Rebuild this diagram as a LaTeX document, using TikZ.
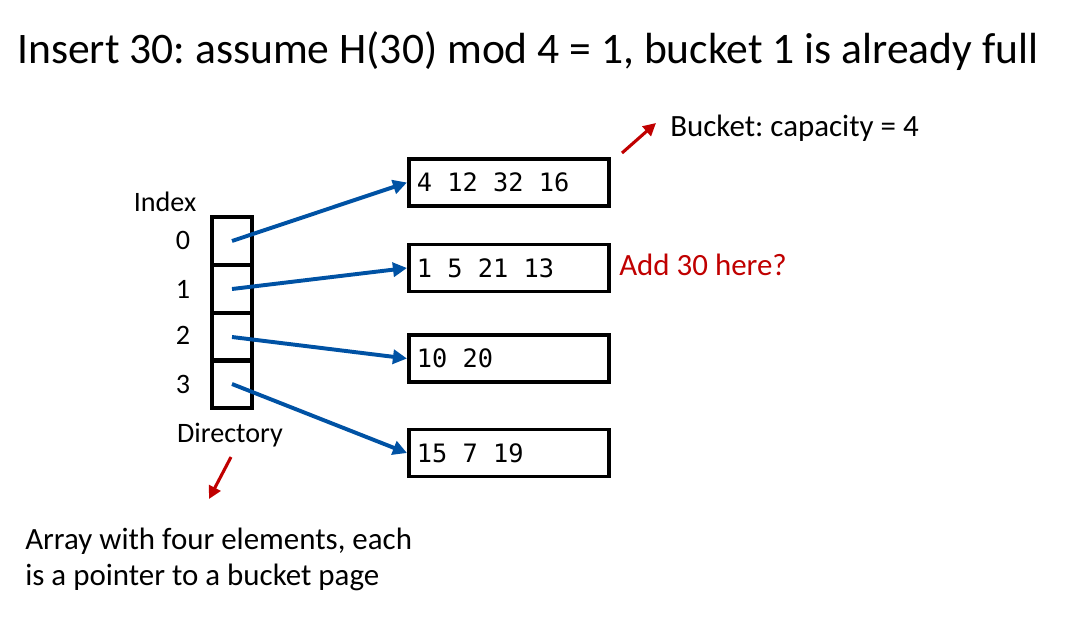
\documentclass[tikz,border=0pt]{standalone}
\usepackage{fontspec}
\setmainfont{Carlito}
\setmonofont{DejaVu Sans Mono}
\usetikzlibrary{arrows.meta}
\definecolor{ptrblue}{RGB}{0,82,164}
\definecolor{notered}{RGB}{192,0,0}
\newcommand\msp{\hbox to 0.602em{}}
\frenchspacing
\tikzset{
  cell/.style={draw, line width=2.8pt, minimum width=1cm, minimum height=1.2cm, inner sep=0pt},
  bucket/.style={draw, line width=2.8pt, anchor=west, minimum width=5cm, minimum height=1.175cm,
    text width=4.6cm, inner xsep=0.2cm, align=left, font=\ttfamily\fontsize{18}{22}\selectfont},
  lbl/.style={font=\fontsize{20}{25.5}\selectfont, inner sep=0pt},
  txt/.style={font=\fontsize{22}{25.5}\selectfont, inner sep=0pt},
  ptr/.style={ptrblue, line width=2.8pt, -{Triangle[length=10pt,width=10pt]}},
  note/.style={notered, line width=2.2pt, -{Triangle[length=9pt,width=9pt]}}
}
\begin{document}
\begin{tikzpicture}[x=0.025cm,y=-0.025cm]
    \useasboundingbox (0,0) rectangle (1072,619);
    \node[anchor=base west, inner sep=0pt, font=\fontsize{31}{36}\selectfont] (title) at (17,63)
        {Insert 30: assume H(30) mod 4 = 1, bucket 1 is already full};
    % directory
    \node[cell] (d0) at (232,241) {};
    \node[cell] (d1) at (232,289) {};
    \node[cell] (d2) at (232,337) {};
    \node[cell] (d3) at (232,384) {};
    \node[lbl] (index) at (165,202) {Index};
    \node[lbl] (i0) at (183,240) {0};
    \node[lbl] (i1) at (183,289) {1};
    \node[lbl] (i2) at (183,335) {2};
    \node[lbl] (i3) at (183,384) {3};
    \node[lbl] (dir) at (230,435) {Directory};
    % buckets
    \node[bucket] (b0) at (407,182.5) {4\msp12\msp32\msp16};
    \node[bucket] (b1) at (407,268) {1\msp5\msp21\msp13};
    \node[bucket] (b2) at (407,358.5) {10\msp20};
    \node[bucket] (b3) at (407,453) {15\msp7\msp19};
    \draw[ptr] (d0.center) -- (b0.west);
    \draw[ptr] (d1.center) -- (b1.west);
    \draw[ptr] (d2.center) -- (b2.west);
    \draw[ptr] (d3.center) -- (b3.west);
    % notes
    \node[txt, anchor=base west] (cap) at (670,136) {Bucket: capacity = 4};
    \node[txt, anchor=base west, notered] (add) at (619,275) {Add 30 here?};
    \node[txt, anchor=north west, align=left] (arr) at (25,528)
        {Array with four elements, each\\is a pointer to a bucket page};
    \coordinate (capfrom) at (622,153);
    \coordinate (capto) at (656,123);
    \coordinate (dirfrom) at (231,457);
    \coordinate (dirto) at (209,499);
    \draw[note] (capfrom) -- (capto);
    \draw[note] (dirfrom) -- (dirto);
\end{tikzpicture}
\end{document}
